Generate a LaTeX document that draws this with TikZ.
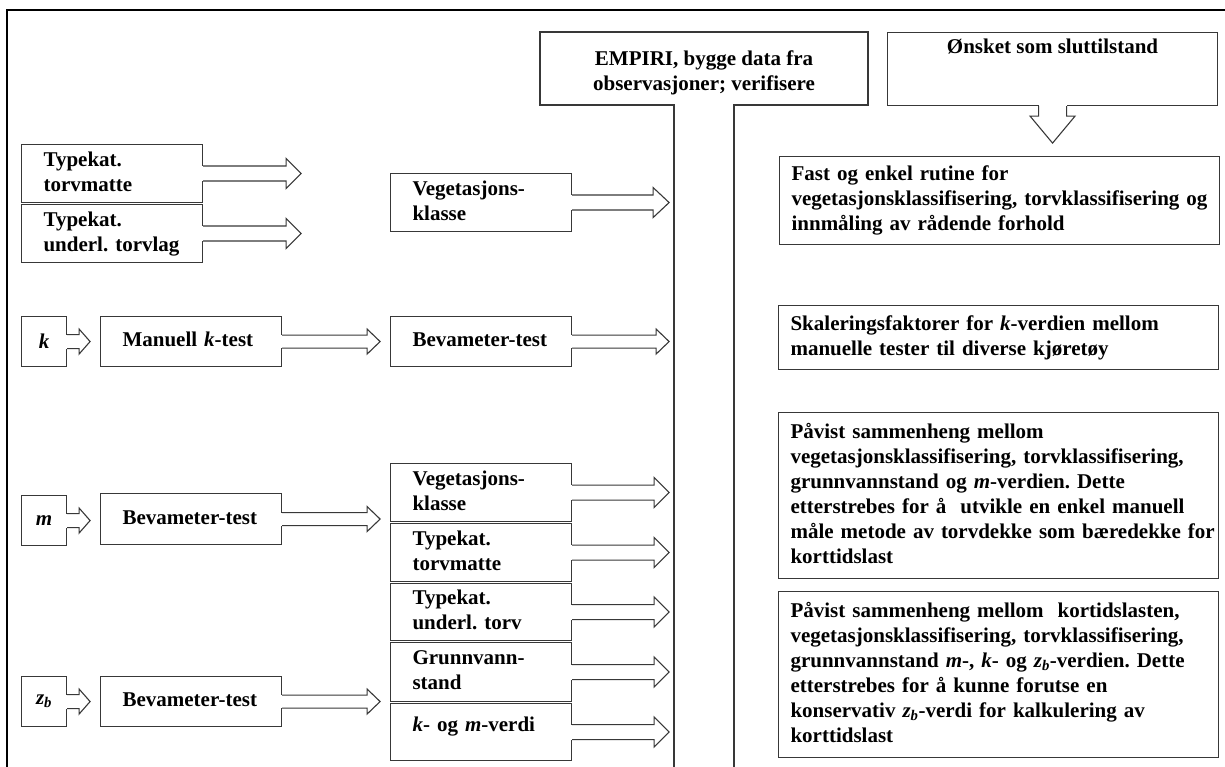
\documentclass[tikz,border=0pt]{standalone}
\usepackage{fontspec}
\setmainfont{Liberation Serif}
\usetikzlibrary{calc}
\newcommand\txtfont{\fontsize{21}{25}\selectfont\bfseries\frenchspacing}
\newcommand\lines[1]{\begin{tabular}{@{}l@{}}#1\end{tabular}}
\tikzset{
  boxline/.style={draw=black!78, line width=1.1pt, line join=miter},
  lbox/.style={boxline, rectangle, anchor=north west, inner xsep=22pt, inner ysep=0pt,
    text width=137pt, align=left, font=\txtfont},
  sbox/.style={boxline, rectangle, anchor=north west, inner sep=0pt,
    minimum width=45pt, minimum height=50pt, font=\txtfont},
  rbox/.style={boxline, rectangle, anchor=north west, inner xsep=12pt, inner ysep=0pt,
    text width=416pt, align=left, font=\txtfont},
}
% block arrow: start anchor, shaft length, head length, shaft half-height, head half-height
\newcommand\blockarrow[5]{%
  \fill[white] ($(#1)+(-1,-#4)$) rectangle ($(#1)+(1,#4)$);
  \draw[boxline] ($(#1)+(0,-#4)$) -- ++(#2,0) -- ++(0,{#4-#5}) -- ++(#3,#5)
     -- ++(-#3,#5) -- ++(0,{#4-#5}) -- ++(-#2,0);
}
\begin{document}
\begin{tikzpicture}[x=1pt, y=-1pt]
\useasboundingbox (0,0) rectangle (1225,767);
\fill[white] (0,0) rectangle (1225,767);
% outer frame (top and left only visible)
\draw[line width=2pt] (7,767) -- (7,10.5) -- (1225,10.5);

% EMPIRI shape
\draw[boxline] (674,767) -- (674,105) -- (540,105) -- (540,32) -- (868,32) -- (868,105) -- (734,105) -- (734,767);
\node[font=\txtfont, align=center, inner sep=0pt] (emp) at (704,73) {EMPIRI, bygge data fra\\observasjoner; verifisere};

% Onsket box with down arrow
\node[boxline, anchor=north west, minimum width=330pt, minimum height=73pt, inner sep=0pt,
      font=\txtfont, text height=14pt, text depth=45pt] (ons) at (887,32) {Ønsket som sluttilstand};
\fill[white] ($(ons.south)+(-14,-1)$) rectangle ($(ons.south)+(14,1)$);
\draw[boxline] ($(ons.south)+(-14,0)$) -- ++(0,10) -- ++(-8.5,0) -- ++(22.5,27)
   -- ++(22.5,-27) -- ++(-8.5,0) -- ++(0,-10);

% left column, top group
\node[lbox, minimum height=58pt] (tm1) at (21,144) {\lines{Typekat.\\torvmatte}};
\node[lbox, minimum height=58pt] (ut1) at (21,204) {\lines{Typekat.\\underl. torvlag}};
\node[lbox, minimum height=58pt] (vk1) at (390,173) {\lines{Vegetasjons-\\klasse}};

% k row
\node[sbox] (kb) at (21,316) {\textit{k}};
\node[lbox, minimum height=50pt] (man) at (100,316) {\lines{Manuell \textit{k}-test}};
\node[lbox, minimum height=50pt] (bev1) at (390,316) {\lines{Bevameter-test}};

% m row
\node[sbox] (mb) at (21,495) {\textit{m}};
\node[lbox, minimum height=51pt] (bev2) at (100,493) {\lines{Bevameter-test}};

% right stack
\node[lbox, minimum height=58pt] (vk2) at (390,463) {\lines{Vegetasjons-\\klasse}};
\node[lbox, minimum height=58pt] (tm2) at (390,523) {\lines{Typekat.\\torvmatte}};
\node[lbox, minimum height=57pt] (ut2) at (390,583) {\lines{Typekat.\\underl. torv}};
\node[lbox, minimum height=59pt] (gv) at (390,642) {\lines{Grunnvann-\\stand}};
\node[lbox, minimum height=57pt, text height=14pt, text depth=14pt] (km) at (390,703) {\lines{\textit{k}- og \textit{m}-verdi}};

% zb row
\node[sbox] (zb) at (21,676) {\textit{z\textsubscript{b}}};
\node[lbox, minimum height=50pt] (bev3) at (100,676) {\lines{Bevameter-test}};

% right column
\node[rbox, minimum height=88pt] (fast) at (779,156) {\lines{Fast og enkel rutine for\\vegetasjonsklassifisering, torvklassifisering og\\innmåling av rådende forhold}};
\node[rbox, minimum height=64pt] (skal) at (778,305) {\lines{Skaleringsfaktorer for \textit{k}-verdien mellom\\manuelle tester til diverse kjøretøy}};
\node[rbox, minimum height=166pt] (pav1) at (778,412) {\lines{Påvist sammenheng mellom\\vegetasjonsklassifisering, torvklassifisering,\\grunnvannstand og \textit{m}-verdien. Dette\\etterstrebes for å\ \ utvikle en enkel manuell\\måle metode av torvdekke som bæredekke for\\korttidslast}};
\node[rbox, minimum height=166pt] (pav2) at (778,591) {\lines{Påvist sammenheng mellom\ \ kortidslasten,\\vegetasjonsklassifisering, torvklassifisering,\\grunnvannstand \textit{m}-, \textit{k}- og \textit{z\textsubscript{b}}-verdien. Dette\\etterstrebes for å kunne forutse en\\konservativ \textit{z\textsubscript{b}}-verdi for kalkulering av\\korttidslast}};

% block arrows
\blockarrow{tm1.east}{83}{15}{7.5}{15}
\blockarrow{ut1.east}{83}{15}{7.5}{15}
\blockarrow{vk1.east}{81}{16}{7.5}{15}
\blockarrow{kb.east}{12}{11}{7}{12.5}
\blockarrow{man.east}{85}{13}{6.5}{12.5}
\blockarrow{bev1.east}{84}{13}{6.5}{12.5}
\blockarrow{mb.east}{12}{11}{7}{12.5}
\blockarrow{bev2.east}{85}{13}{6.5}{12.5}
\blockarrow{vk2.east}{82}{15}{7.5}{15}
\blockarrow{tm2.east}{82}{15}{7.5}{15}
\blockarrow{ut2.east}{82}{15}{7.5}{15}
\blockarrow{gv.east}{82}{15}{7.5}{15}
\blockarrow{km.east}{82}{15}{7.5}{15}
\blockarrow{zb.east}{12}{11}{7}{12.5}
\blockarrow{bev3.east}{85}{13}{6.5}{12.5}
\end{tikzpicture}
\end{document}
